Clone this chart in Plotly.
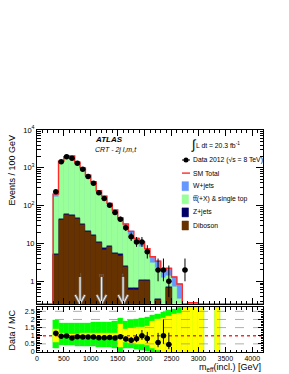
import math
import plotly.graph_objects as go

# ---------------- data ----------------
bin_lo = list(range(300, 4200, 100))          # lower bin edges, GeV (100 GeV bins)
bin_width = 100
x_range = [0, 4200]
y_log_range = [-0.6, 4.0]
ratio_range = [0, 2.75]

data_obs = [232, 1445, 1950, 1780, 1320, 915, 590, 394, 218, 155, 103, 66, 44, 26,
            15, 11, 11, 6, 0, 2, 2, 1, 0, 0, 2] + [0] * 14

diboson = [5, 41, 58, 53, 45, 30, 20, 15.5, 10, 6.9, 8.1, 5.3, 4.8, 2.4, 0.6, 0.6,
           1.0, 1.0, 0, 0.33, 0, 0.65] + [0] * 17
zjets = [0.3, 3, 4, 3.8, 3.2, 2.2, 1.5, 1.1, 0.75, 0.5, 0.55, 0.4, 0.35, 0.2, 0.05,
         0.05, 0.07, 0.07, 0, 0.02, 0, 0.04] + [0] * 17
ttbar = [167, 1295, 1720, 1790, 1230, 867, 555, 370, 209, 150, 92, 62, 36, 25, 16,
         9.5, 7.1, 4.4, 3.1, 1.85, 1.2, 0.66, 0.7, 0.35, 0, 0.12, 0.12] + [0] * 12
wjets = [30, 150, 200, 205, 140, 100, 64, 43, 30, 21, 14, 9, 6, 5, 4.2, 3.4, 2.8,
         1.8, 1.35, 1.2, 0.8, 0.85, 0.6, 0.5, 0, 0.15, 0.15] + [0] * 12

N = None
green_lo = [0.2, 0.4, 0.4, 0.39, 0.38, 0.37, 0.35, 0.34, 0.32, 0.3, 0.28, 0.25, 0.0,
            0.25, 0.2, 0.15, 0.1, 0.05, 0, 0, 0, 0, 0, 0, 0, 0, 0, 0, N, N, 0] + [N] * 8
green_hi = [1.95, 1.74, 1.75, 1.76, 1.77, 1.78, 1.79, 1.8, 1.81, 1.83, 1.85, 1.87, 2.05,
            1.9, 1.95, 2.0, 2.08, 2.15, 2.25, 2.35, 2.45, 2.55, 2.65, 2.75, 3, 3, 3, 3,
            N, N, 3] + [N] * 8
yellow_lo = [0.62, 0.87, 0.88, 0.88, 0.88, 0.87, 0.87, 0.86, 0.86, 0.85, 0.85, 0.84, 0.3,
             0.6, 0.55, 0.5, 0.45, 0.4, 0.2, 0.1, 0, 0, 0, 0, 0, 0, 0, 0, N, N, 0] + [N] * 8
yellow_hi = [1.4, 1.13, 1.12, 1.12, 1.12, 1.13, 1.13, 1.14, 1.14, 1.15, 1.15, 1.16, 1.7,
             1.4, 1.45, 1.5, 1.55, 1.6, 1.9, 2.0, 2.1, 2.2, 2.3, 2.4, 3, 3, 3, 3,
             N, N, 3] + [N] * 8

cut_values = [800, 1200, 1600]
cut_labels = ["l", "m", "t"]
cut_arrow_top = 1.3
ratio_ref_lines = [0.5, 1.5, 2.0, 2.5]

legend_rows = [
    ("W+jets", "rgb(102,153,255)"),
    ("tt\u0305(+X) & single top", "rgb(153,255,153)"),
    ("Z+jets", "rgb(0,0,102)"),
    ("Diboson", "rgb(102,51,0)"),
]
c_w, c_tt, c_z, c_db = [c for _, c in legend_rows]
c_red = "#ff2a2a"
FONT = "Liberation Sans, Arial, Helvetica, sans-serif"

# ---------------- derived ----------------
centers = [lo + bin_width / 2 for lo in bin_lo]
cum_db = diboson[:]
cum_z = [a + b for a, b in zip(cum_db, zjets)]
cum_tt = [a + b for a, b in zip(cum_z, ttbar)]
total = [a + b for a, b in zip(cum_tt, wjets)]
nz = lambda arr: [v if v and v > 0 else None for v in arr]

floor = 10 ** y_log_range[0]

fig = go.Figure()

# stacked histogram as overlaid cumulative bars
for arr, col in [(total, c_w), (cum_tt, c_tt), (cum_z, c_z), (cum_db, c_db)]:
    fig.add_trace(go.Bar(x=centers, y=nz(arr), width=bin_width, marker_color=col,
                         marker_line=dict(width=0.4, color=col),
                         xaxis="x", yaxis="y", showlegend=False, hoverinfo="skip"))

# SM total step line (clamped at axis minimum like ROOT)
step_x = [x_range[0]] + bin_lo + [x_range[1]]
step_y = [floor] + [max(t, floor) for t in total] + [max(total[-1], floor)]
fig.add_trace(go.Scatter(x=step_x, y=step_y, mode="lines", line_shape="hv",
                         line=dict(color=c_red, width=1.4), xaxis="x", yaxis="y",
                         showlegend=False, hoverinfo="skip"))

# cut arrows
for c, lab in zip(cut_values, cut_labels):
    for col, w in [("#8c8c8c", 2.6), ("white", 0.9)]:
        fig.add_trace(go.Scatter(x=[c, c], y=[cut_arrow_top, floor], mode="lines",
                                 line=dict(color=col, width=w), xaxis="x", yaxis="y",
                                 showlegend=False, hoverinfo="skip"))
        fig.add_trace(go.Scatter(x=[c - 90, c, c + 90],
                                 y=[floor * 10 ** 0.24, floor * 1.01, floor * 10 ** 0.24],
                                 mode="lines", line=dict(color=col, width=w),
                                 xaxis="x", yaxis="y", showlegend=False, hoverinfo="skip"))
    fig.add_annotation(x=c, y=math.log10(cut_arrow_top), xref="x", yref="y", text=lab,
                       showarrow=False, yanchor="bottom", yshift=-3,
                       font=dict(size=6, color="#777777", family=FONT))

# data points
dx, dy, eu, ed = [], [], [], []
for c, n in zip(centers, data_obs):
    if n > 0:
        dx.append(c); dy.append(n)
        s = math.sqrt(n + 0.25)
        eu.append(0.5 + s); ed.append(s - 0.5)
fig.add_trace(go.Scatter(x=dx, y=dy, mode="markers",
                         marker=dict(color="black", size=5.5),
                         error_y=dict(type="data", array=eu, arrayminus=ed, color="black",
                                      thickness=1, width=0),
                         error_x=dict(type="constant", value=bin_width / 2, color="black",
                                      thickness=1, width=0),
                         xaxis="x", yaxis="y", showlegend=False, hoverinfo="skip"))

# ---------------- ratio panel ----------------
for lo_arr, hi_arr, col in [(green_lo, green_hi, "#00ff00"), (yellow_lo, yellow_hi, "#ffff00")]:
    ys = [(h - l) if (h is not None and l is not None) else None for l, h in zip(lo_arr, hi_arr)]
    fig.add_trace(go.Bar(x=centers, y=ys, base=lo_arr, width=bin_width, marker_color=col,
                         marker_line=dict(width=0.4, color=col),
                         xaxis="x2", yaxis="y2", showlegend=False, hoverinfo="skip"))

for v in ratio_ref_lines:
    fig.add_trace(go.Scatter(x=x_range, y=[v, v], mode="lines",
                             line=dict(color="#9a9a9a", width=0.8, dash="dash"),
                             xaxis="x2", yaxis="y2", showlegend=False, hoverinfo="skip"))
fig.add_trace(go.Scatter(x=x_range, y=[1, 1], mode="lines",
                         line=dict(color=c_red, width=1.3, dash="dot"),
                         xaxis="x2", yaxis="y2", showlegend=False, hoverinfo="skip"))

rx, ry, reu, red_ = [], [], [], []
for c, n, t in zip(centers, data_obs, total):
    if n > 0 and t > 0:
        s = math.sqrt(n + 0.25)
        rx.append(c); ry.append(n / t)
        reu.append((0.5 + s) / t); red_.append((s - 0.5) / t)
fig.add_trace(go.Scatter(x=rx, y=ry, mode="markers",
                         marker=dict(color="black", size=5.5),
                         error_y=dict(type="data", array=reu, arrayminus=red_, color="black",
                                      thickness=1, width=0),
                         error_x=dict(type="constant", value=bin_width / 2, color="black",
                                      thickness=1, width=0),
                         xaxis="x2", yaxis="y2", showlegend=False, hoverinfo="skip"))

# ---------------- axes ----------------
axis_common = dict(showline=True, linecolor="black", linewidth=1, mirror="ticks",
                   ticks="inside", tickcolor="black", showgrid=False, zeroline=False,
                   automargin=False,
                   tickfont=dict(size=7.5, family=FONT, color="black"))
minor_vals = [m * 10 ** e for e in range(-1, 4) for m in range(2, 10)]
fig.update_layout(
    xaxis=dict(domain=[0, 1], range=x_range, anchor="y", dtick=500, ticklen=6,
               showticklabels=False,
               minor=dict(dtick=100, ticklen=3, ticks="inside", tickcolor="black"),
               **axis_common),
    yaxis=dict(domain=[0.2162, 1], type="log", range=y_log_range, anchor="x",
               tickvals=[1, 10, 100, 1000, 10000],
               ticktext=["1", "10", "10<sup>2</sup>", "10<sup>3</sup>", "10<sup>4</sup>"],
               ticklen=7,
               minor=dict(tickvals=minor_vals, ticklen=3.5, ticks="inside", tickcolor="black"),
               **axis_common),
    xaxis2=dict(domain=[0, 1], range=x_range, anchor="y2", dtick=500, ticklen=5,
                minor=dict(dtick=100, ticklen=2.5, ticks="inside", tickcolor="black"),
                **{**axis_common, "tickfont": dict(size=7, family=FONT, color="black")}),
    yaxis2=dict(domain=[0, 0.2014], range=ratio_range, anchor="x2",
                tickvals=[0, 0.5, 1, 1.5, 2, 2.5],
                ticktext=["0", "0.5", "1", "1.5", "2", "2.5"], ticklen=5,
                minor=dict(dtick=0.1, ticklen=2.5, ticks="inside", tickcolor="black"),
                **{**axis_common, "tickfont": dict(size=7, family=FONT, color="black")}),
    barmode="overlay", bargap=0, bargroupgap=0,
    width=289, height=374,
    margin=dict(l=37, r=26, t=130, b=22, autoexpand=False),
    paper_bgcolor="white", plot_bgcolor="white",
    font=dict(family=FONT, color="black"),
    showlegend=False,
)

# ---------------- texts ----------------
W_PLOT, H_PLOT, L_M, B_EDGE = 226.0, 222.0, 37.0, 352.0
px = lambda x: (x - L_M) / W_PLOT
py = lambda y: (B_EDGE - y) / H_PLOT

def note(x, y, text, size=7, xanchor="left", yanchor="middle", angle=0, color="black"):
    fig.add_annotation(x=px(x), y=py(y), xref="paper", yref="paper", text=text,
                       showarrow=False, xanchor=xanchor, yanchor=yanchor, textangle=angle,
                       font=dict(size=size, family=FONT, color=color))

note(11.5, 170, "Events / 100 GeV", size=9, xanchor="center", angle=-90)
note(11.5, 330, "Data / MC", size=9, xanchor="center", angle=-90)
note(263, 367, "m<sub>eff</sub>(incl.) [GeV]", size=9, xanchor="right")

note(93, 139.5, "<b><i>ATLAS</i></b>", size=8)
note(93, 149.5, "<i>CRT - 2j l,m,t</i>", size=7)

# legend
note(189, 144, "\u222b", size=13)
note(194, 145, "L dt = 20.3 fb<sup>-1</sup>", size=6.8)
row_y0, row_dy = 160.0, 13.1
note(191, row_y0, "Data 2012 (\u221as = 8 TeV)", size=6.8)
fig.add_shape(type="circle", xref="paper", yref="paper",
              x0=px(183.5), x1=px(188.5), y0=py(162.5), y1=py(157.5),
              fillcolor="black", line=dict(color="black", width=0))
fig.add_shape(type="line", xref="paper", yref="paper", x0=px(182), x1=px(190),
              y0=py(row_y0), y1=py(row_y0), line=dict(color="black", width=1))
y_sm = row_y0 + row_dy
fig.add_shape(type="line", xref="paper", yref="paper", x0=px(182), x1=px(190),
              y0=py(y_sm), y1=py(y_sm), line=dict(color=c_red, width=1.4))
note(191, y_sm, "SM Total", size=6.8)
for i, (name, col) in enumerate(legend_rows):
    yy = row_y0 + row_dy * (i + 2)
    fig.add_shape(type="rect", xref="paper", yref="paper", x0=px(182), x1=px(188.5),
                  y0=py(yy + 4.5), y1=py(yy - 4.5), fillcolor=col,
                  line=dict(color=col, width=0.5))
    note(191, yy, name, size=6.8)

fig.write_html("out.html", config={"displayModeBar": False},
               post_script="document.body.style.margin='0px';"
                           "document.body.style.padding='0px';")
